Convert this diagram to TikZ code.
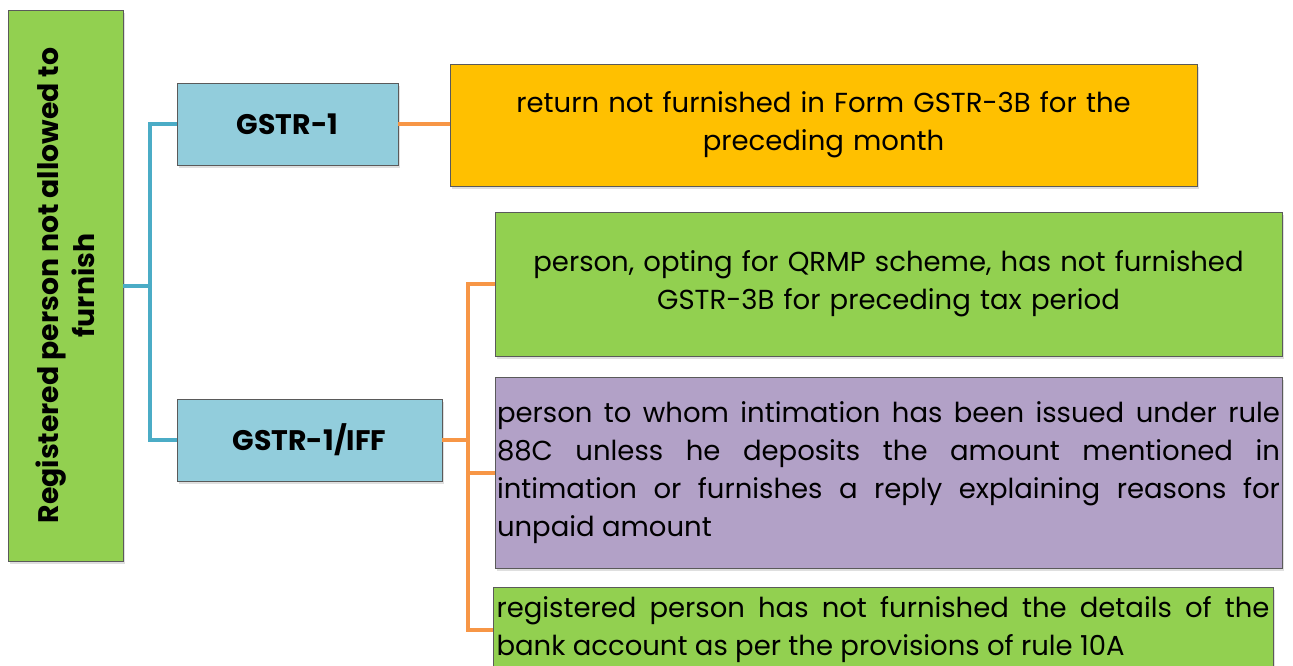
\documentclass[tikz,border=0pt]{standalone}
\usepackage{fontspec}
\setmainfont{Poppins}
\usetikzlibrary{shadows}
\hyphenpenalty=10000
\exhyphenpenalty=10000
\definecolor{cgreen}{HTML}{92D050}
\definecolor{cblue}{HTML}{92CDDC}
\definecolor{corange}{HTML}{FFC000}
\definecolor{cpurple}{HTML}{B2A1C7}
\definecolor{lblue}{HTML}{4BACC6}
\definecolor{lorange}{HTML}{F79646}
\definecolor{cborder}{HTML}{5A5A5A}
\tikzset{
  box/.style={draw=cborder, line width=0.9pt, rectangle, inner sep=0pt,
    drop shadow={shadow xshift=1.5pt, shadow yshift=-3pt, opacity=0.25}},
  bodytext/.style={font=\fontsize{27.5}{38}\selectfont},
  boldtext/.style={font=\fontsize{28.3}{36}\selectfont\bfseries},
  bline/.style={draw=lblue, line width=4pt},
  oline/.style={draw=lorange, line width=4pt},
}
\begin{document}
\begin{tikzpicture}[x=1pt,y=-1pt]
\useasboundingbox (0,0) rectangle (1293,665);
\clip (0,0) rectangle (1293,665);
% root
\node[box, fill=cgreen, minimum width=115pt, minimum height=551pt] (root) at (65.5,285.5) {};
\node[boldtext, rotate=90, align=center] (roottext) at (root.center) {Registered person not allowed to\\furnish};
% level 1
\node[box, fill=cblue, minimum width=221pt, minimum height=82pt, boldtext] (g1) at (287.5,124) {GSTR-1};
\node[box, fill=cblue, minimum width=265pt, minimum height=82pt, boldtext] (g2) at (309.5,440) {GSTR-1/IFF};
% level 2
\node[box, fill=corange, minimum width=747pt, minimum height=122pt, text width=727pt, align=center, bodytext] (o1) at (823.5,125) {return not furnished in Form GSTR-3B for the\\preceding month};
\node[box, fill=cgreen, minimum width=787pt, minimum height=144pt, text width=767pt, align=center, bodytext] (t1) at (888.5,284) {person, opting for QRMP scheme, has not furnished\\GSTR-3B for preceding tax period};
\node[box, fill=cpurple, minimum width=787pt, minimum height=191pt, text width=783pt, align=justify, bodytext] (t2) at (888.5,472.5) {person to whom intimation has been issued under rule\linebreak 88C unless he deposits the amount mentioned in\linebreak intimation or furnishes a reply explaining reasons for\linebreak unpaid amount};
\node[box, fill=cgreen, minimum width=780pt, minimum height=86pt, text width=773pt, align=justify, bodytext] (t3) at (883,630) {registered person has not furnished the details of the\linebreak bank account as per the provisions of rule 10A};
% connectors
\draw[bline] (root.east) -- ++(27,0) coordinate (bj);
\draw[bline] (bj) |- (g1.west);
\draw[bline] (bj) |- (g2.west);
\draw[oline] (g1.east) -- (g1.east -| o1.west);
\draw[oline] (g2.east) -- ++(26,0) coordinate (oj);
\draw[oline] (oj) |- (t1.west);
\draw[oline] (oj) |- (t2.west);
\draw[oline] (oj) |- (t3.west);
\end{tikzpicture}
\end{document}
